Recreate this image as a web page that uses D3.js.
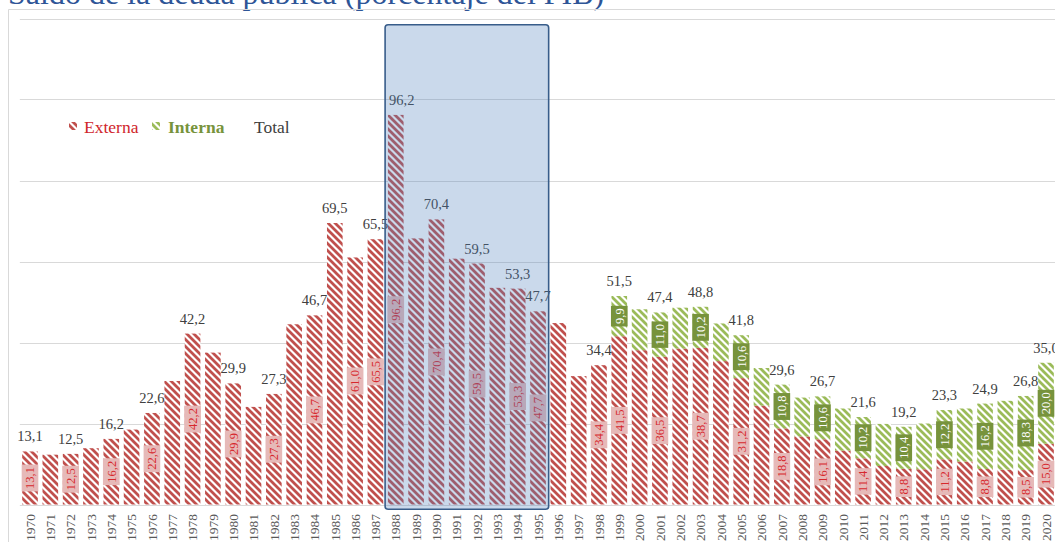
<!DOCTYPE html>
<html><head><meta charset="utf-8">
<script src="https://cdn.jsdelivr.net/npm/d3@7"></script>
<style>html,body{margin:0;padding:0;background:#fff;overflow:hidden}svg{display:block}
svg text{font-family:"Liberation Serif","Times New Roman",Times,serif}</style>
</head><body>
<script>
const years = d3.range(1970, 2021);
const externa = [13.1,12.3,12.5,13.9,16.2,18.5,22.6,30.5,42.2,37.5,
  29.9,24.1,27.3,44.5,46.7,69.5,61.0,65.5,96.2,65.7,
  70.4,60.7,59.5,53.5,53.3,47.7,44.8,31.7,34.4,41.54,
  38.1,36.46,38.5,38.66,35.4,31.2,24.4,18.8,16.8,16.1,
  13.3,11.4,9.5,8.8,8.7,11.16,10.6,8.76,8.6,8.5,15.0];
const interna = [0,0,0,0,0,0,0,0,0,0,
  0,0,0,0,0,0,0,0,0,0,
  0,0,0,0,0,0,0,0,0,9.94,
  10.1,10.96,10.1,10.16,9.3,10.6,9.3,10.8,9.6,10.6,
  10.4,10.2,10.4,10.4,11.3,12.16,13.1,16.16,17.0,18.3,20.0];
const totalLabelYears = [1970,1972,1974,1976,1978,1980,1982,1984,1985,1987,1988,1990,1992,1994,1995,
  1998,1999,2001,2003,2005,2007,2009,2011,2013,2015,2017,2019,2020];
const externaLabelYears = [1970,1972,1974,1976,1978,1980,1982,1984,1986,1987,1988,1990,1992,1994,1995,
  1998,1999,2001,2003,2005,2007,2009,2011,2013,2015,2017,2019,2020];
const internaLabelYears = [1999,2001,2003,2005,2007,2009,2011,2013,2015,2017,2019,2020];
const yTicks = [0,20,40,60,80,100,120];
const title = "Saldo de la deuda pública (porcentaje del PIB)";
const legendItems = ["Externa","Interna","Total"];
const highlight = [1988, 1995];

const W = 1055, H = 542;
const RED = "#c0504d", GREEN = "#9bbb59";
const fmt = v => d3.format(".1f")(v).replace(".", ",");

const data = years.map((yr,i)=>({year:yr, ext:externa[i], int:interna[i], total:externa[i]+interna[i]}));
const byYear = new Map(data.map(d=>[d.year,d]));

const svg = d3.select("body").append("svg").attr("width",W).attr("height",H);
const defs = svg.append("defs");
function stripe(id, color){
  const s = 7;
  const p = defs.append("pattern").attr("id",id).attr("patternUnits","userSpaceOnUse")
    .attr("width",s).attr("height",s);
  p.append("rect").attr("width",s).attr("height",s).attr("fill","#fff");
  p.append("path").attr("d",`M-1,-1L${s+1},${s+1}M${-s/2-1},${s/2-1}L${s/2+1},${1.5*s+1}M${s/2-1},${-s/2-1}L${1.5*s+1},${s/2+1}`)
    .attr("stroke",color).attr("stroke-width",2.8).attr("fill","none");
}
stripe("pExt", RED); stripe("pInt", GREEN);

const x = d3.scaleBand().domain(years).range([19.84, 1056.16]).paddingInner(0.23).paddingOuter(0.115);
const y = d3.scaleLinear().domain([0,120]).range([504.5, 18.5]);
const bw = x.bandwidth();

// title
svg.append("text").attr("x",8).attr("y",4).attr("font-size",32)
  .attr("fill","#2e5597").text(title);

// chart area border
svg.append("path").attr("d",`M8.5,${H}V9.5H${W}`).attr("fill","none").attr("stroke","#d9d9d9").attr("stroke-width",1);

// gridlines
svg.append("g").selectAll("line").data(yTicks).join("line")
  .attr("x1",x.range()[0]).attr("x2",W).attr("y1",d=>Math.round(y(d))+0.5).attr("y2",d=>Math.round(y(d))+0.5)
  .attr("stroke","#d9d9d9").attr("stroke-width",1);

// bars
const bars = svg.append("g");
bars.selectAll("rect.ext").data(data).join("rect").attr("class","ext")
  .attr("x",d=>x(d.year)).attr("width",bw).attr("y",d=>y(d.ext)).attr("height",d=>y(0)-y(d.ext))
  .attr("fill","url(#pExt)");
bars.selectAll("rect.int").data(data.filter(d=>d.int>0)).join("rect").attr("class","int")
  .attr("x",d=>x(d.year)).attr("width",bw).attr("y",d=>y(d.total)).attr("height",d=>y(d.ext)-y(d.total))
  .attr("fill","url(#pInt)");

// inside labels
function insideLabel(yrs, key, bg, fg, lo, hi){
  const g = svg.append("g");
  yrs.forEach(yr=>{
    const d = byYear.get(yr);
    const cx = x(yr)+bw/2, cy = (y(lo(d))+y(hi(d)))/2;
    const t = fmt(key(d));
    const gg = g.append("g").attr("transform",`translate(${cx},${cy})`);
    const txt = gg.append("text").attr("transform","rotate(-90)").attr("text-anchor","middle")
      .attr("dy","0.35em").attr("font-size",12.5).attr("fill",fg).text(t);
    const len = txt.node().getComputedTextLength();
    gg.insert("rect","text").attr("x",-(bw+1)/2).attr("width",bw+1).attr("y",-(len+5)/2).attr("height",len+5).attr("fill",bg);
  });
}
insideLabel(externaLabelYears, d=>d.ext, "#e6b9b8", "#d7282d", d=>0, d=>d.ext);
insideLabel(internaLabelYears, d=>d.int, "#77933c", "#ffffff", d=>d.ext, d=>d.total);

// total labels
svg.append("g").selectAll("text").data(totalLabelYears.map(yr=>byYear.get(yr))).join("text")
  .attr("x",d=>x(d.year)+bw/2+(d.year===1988?6:0)).attr("y",d=>y(d.total)-10)
  .attr("text-anchor","middle").attr("font-size",14.5).attr("fill","#404040")
  .text(d=>fmt(d.total));

// x axis labels
svg.append("g").selectAll("text").data(years).join("text")
  .attr("transform",d=>`translate(${x(d)+bw/2},514) rotate(-90)`)
  .attr("text-anchor","end").attr("dy","0.35em").attr("font-size",13.5)
  .attr("fill","#595959").text(d=>d);

// legend
const lg = svg.append("g").attr("font-size",17.5);
lg.append("rect").attr("x",69).attr("y",122).attr("width",8).attr("height",8).attr("fill","url(#pExt)");
lg.append("text").attr("x",84).attr("y",132.5).attr("fill","#d0262b").text(legendItems[0]);
lg.append("rect").attr("x",152).attr("y",122).attr("width",8).attr("height",8).attr("fill","url(#pInt)");
lg.append("text").attr("x",168).attr("y",132.5).attr("fill","#77933c").attr("font-weight","bold").text(legendItems[1]);
lg.append("text").attr("x",254).attr("y",132.5).attr("fill","#404040").text(legendItems[2]);

// highlight box
const hx0 = x(highlight[0]) - (x.step()-bw)/2 - 0.5, hx1 = x(highlight[1]) + bw + (x.step()-bw)/2 + 0.5;
svg.append("rect").attr("x",hx0).attr("y",24.7).attr("width",hx1-hx0).attr("height",509.3-24.7)
  .attr("rx",3).attr("fill","#4f81bd").attr("fill-opacity",0.3)
  .attr("stroke","#385d8a").attr("stroke-width",1.6);
</script>
</body></html>
